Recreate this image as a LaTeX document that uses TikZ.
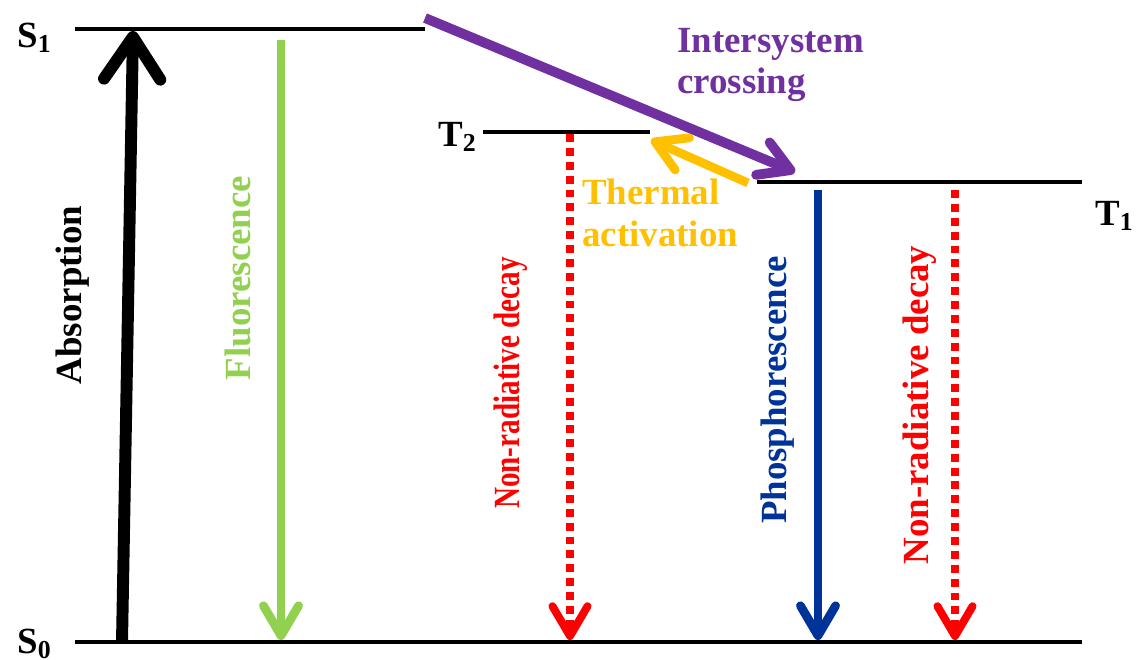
\documentclass[tikz,border=0pt]{standalone}
\usepackage{fontspec}
\setmainfont{Liberation Serif}
\usetikzlibrary{arrows.meta}
\definecolor{fluogreen}{HTML}{92D050}
\definecolor{phosblue}{HTML}{003399}
\definecolor{iscpurple}{HTML}{7030A0}
\definecolor{thermorange}{HTML}{FFC000}
\begin{document}
\begin{tikzpicture}[x=0.02cm, y=-0.02cm,
  level/.style={line width=2.3pt},
  lbl/.style={font=\fontsize{21}{23.5}\selectfont\bfseries, inner sep=0pt},
  vlbl/.style={lbl, rotate=90},
  statelbl/.style={font=\fontsize{21}{23}\selectfont\bfseries, inner sep=0pt,
    anchor=base west},
  bigtip/.style={line width=6.8pt, -{Straight Barb[length=24pt,width=32pt,round]}},
  tip/.style={line width=5pt, -{Straight Barb[length=17pt,width=20pt,round]}},
  dotted tip/.style={tip, line width=4.5pt, dash pattern=on 4.5pt off 3.4pt},
]
\useasboundingbox (0,0) rectangle (1138,659);

% Energy levels
\coordinate (s1-l) at (75,29);   \coordinate (s1-r) at (425,29);
\coordinate (t2-l) at (483,132); \coordinate (t2-r) at (650,132);
\coordinate (t1-l) at (757,182); \coordinate (t1-r) at (1082,182);
\coordinate (s0-l) at (75,642);  \coordinate (s0-r) at (1082,642);
\draw[level] (s1-l) -- (s1-r);
\draw[level] (t2-l) -- (t2-r);
\draw[level] (t1-l) -- (t1-r);
\draw[level, line width=2.8pt] (s0-l) -- (s0-r);

\node[statelbl] (s1) at (17,47) {S\textsubscript{1}};
\node[statelbl] (s0) at (17,653) {S\textsubscript{0}};
\node[statelbl] (t2) at (438,146) {T\textsubscript{2}};
\node[statelbl] (t1) at (1095,225) {T\textsubscript{1}};

% Transitions
\coordinate (abs-a) at (122,642); \coordinate (abs-b) at (133,31);
\draw[bigtip] (abs-a) -- (abs-b);
\coordinate (fl-a) at (281,40);   \coordinate (fl-b) at (281,640);
\draw[tip, fluogreen] (fl-a) -- (fl-b);
\coordinate (nr2-a) at (570,134); \coordinate (nr2-b) at (570,640);
\draw[dotted tip, red] (nr2-a) -- (nr2-b);
\coordinate (ph-a) at (818,190);  \coordinate (ph-b) at (818,640);
\draw[tip, phosblue] (ph-a) -- (ph-b);
\coordinate (nr1-a) at (955,190); \coordinate (nr1-b) at (955,640);
\draw[dotted tip, red] (nr1-a) -- (nr1-b);
\coordinate (isc-a) at (425,18);  \coordinate (isc-b) at (795,172);
\draw[tip, iscpurple, line width=5.6pt] (isc-a) -- (isc-b);
\coordinate (th-a) at (748,183);  \coordinate (th-b) at (651,140);
\draw[tip, thermorange] (th-a) -- (th-b);

% Labels
\node[vlbl] (absorption) at (73,295) {Absorption};
\node[vlbl, text=fluogreen] (fluorescence) at (238,278) {Fluorescence};
\node[vlbl, text=red] (nonrad2) at (511,383) {\scalebox{0.79}[1]{Non-radiative decay}};
\node[vlbl, text=phosblue] (phosphorescence) at (778,390) {Phosphorescence};
\node[vlbl, text=red] (nonrad1) at (920,405) {Non-radiative decay};
\node[lbl, text=iscpurple, align=left, anchor=north west] (isc) at (677,28) {Intersystem\\crossing};
\node[lbl, text=thermorange, align=left, anchor=north west] (thermal) at (582,179) {Thermal\\activation};

\end{tikzpicture}
\end{document}
